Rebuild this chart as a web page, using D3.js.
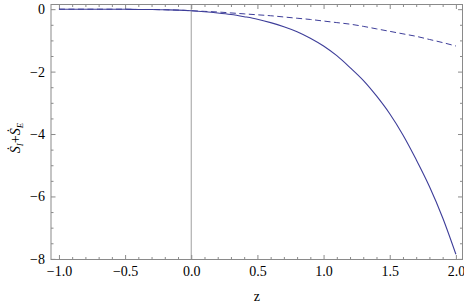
<!DOCTYPE html>
<html>
<head>
<meta charset="utf-8">
<script src="https://cdn.jsdelivr.net/npm/d3@7"></script>
<style>
body { margin: 0; background: #fff; }
svg { display: block; }
</style>
</head>
<body>
<div id="display"><svg width="464" height="305"></svg></div>
<script>
// values
var zValues = [-1.0, -0.9, -0.8, -0.7, -0.6, -0.5, -0.4, -0.3, -0.2, -0.1, 0.0,
    0.1, 0.2, 0.3, 0.4, 0.5, 0.6, 0.7, 0.8, 0.9, 1.0,
    1.1, 1.2, 1.3, 1.4, 1.5, 1.6, 1.7, 1.8, 1.9, 2.0];
var solidValues = [0.0, 0.0, 0.0, 0.0, 0.0, 0.0, -0.01, -0.01, -0.02, -0.03, -0.05,
    -0.08, -0.12, -0.17, -0.24, -0.32, -0.43, -0.56, -0.72, -0.93, -1.18,
    -1.49, -1.87, -2.28, -2.78, -3.35, -4.03, -4.82, -5.68, -6.68, -7.85];
var dashedValues = [0.0, 0.0, 0.0, 0.0, 0.0, 0.0, -0.01, -0.01, -0.02, -0.03, -0.05,
    -0.07, -0.09, -0.12, -0.15, -0.18, -0.21, -0.25, -0.29, -0.33, -0.38,
    -0.43, -0.48, -0.55, -0.63, -0.71, -0.79, -0.87, -0.97, -1.07, -1.18];
var xMajor = [-1.0, -0.5, 0.0, 0.5, 1.0, 1.5, 2.0];
var yMajor = [0, -2, -4, -6, -8];

// plot frame (note: "top" is taken by window.top)
var fL = 51, fR = 462.5, fT = 4.5, fB = 259.5;
var lineColor = "#3d3d99";
var frameColor = "#8a8a8a";
var font = "'Liberation Serif', 'Times New Roman', serif";

var svg = d3.select("#display svg");

var x = d3.scaleLinear().domain([-1.06, 2.05]).range([fL, fR]);
var y = d3.scaleLinear().domain([-8.02, 0.15]).range([fB, fT]);

var xMinor = d3.range(-10, 21).map(function (i) { return i / 10; })
    .filter(function (v) { return Math.abs(v * 2 - Math.round(v * 2)) > 1e-6; });
var yMinor = d3.range(-16, 1).map(function (i) { return i / 2; })
    .filter(function (v) { return Math.abs(v / 2 - Math.round(v / 2)) > 1e-6; });

// axis line at z = 0
svg.append("line")
    .attr("x1", x(0)).attr("x2", x(0))
    .attr("y1", fT).attr("y2", fB)
    .style("stroke", "#a8a8a8").style("stroke-width", 1.1);

function styleAxis(g) {
    g.select(".domain").remove();
    g.selectAll(".tick line").style("stroke", frameColor).style("stroke-width", 1);
    g.selectAll(".tick text").style("font-family", font).style("font-size", "14px").style("fill", "#000");
}

function fmt(d) { return d3.format(".1f")(d).replace("-", "\u2212"); }
function fmtY(d) { return String(d).replace("-", "\u2212"); }

// bottom
svg.append("g").attr("transform", "translate(0," + fB + ")")
    .call(d3.axisBottom(x).tickValues(xMajor).tickFormat(fmt).tickSize(-4.5).tickSizeOuter(0).tickPadding(7))
    .call(styleAxis);
svg.append("g").attr("transform", "translate(0," + fB + ")")
    .call(d3.axisBottom(x).tickValues(xMinor).tickFormat("").tickSize(-2.5).tickSizeOuter(0))
    .call(styleAxis);
// top
svg.append("g").attr("transform", "translate(0," + fT + ")")
    .call(d3.axisTop(x).tickValues(xMajor).tickFormat("").tickSize(-4.5).tickSizeOuter(0))
    .call(styleAxis);
svg.append("g").attr("transform", "translate(0," + fT + ")")
    .call(d3.axisTop(x).tickValues(xMinor).tickFormat("").tickSize(-2.5).tickSizeOuter(0))
    .call(styleAxis);
// left
svg.append("g").attr("transform", "translate(" + fL + ",0)")
    .call(d3.axisLeft(y).tickValues(yMajor).tickFormat(fmtY).tickSize(-4.5).tickSizeOuter(0).tickPadding(6))
    .call(styleAxis);
svg.append("g").attr("transform", "translate(" + fL + ",0)")
    .call(d3.axisLeft(y).tickValues(yMinor).tickFormat("").tickSize(-2.5).tickSizeOuter(0))
    .call(styleAxis);
// right
svg.append("g").attr("transform", "translate(" + fR + ",0)")
    .call(d3.axisRight(y).tickValues(yMajor).tickFormat("").tickSize(-4.5).tickSizeOuter(0))
    .call(styleAxis);
svg.append("g").attr("transform", "translate(" + fR + ",0)")
    .call(d3.axisRight(y).tickValues(yMinor).tickFormat("").tickSize(-2.5).tickSizeOuter(0))
    .call(styleAxis);

// frame
svg.append("rect")
    .attr("x", fL).attr("y", fT)
    .attr("width", fR - fL).attr("height", fB - fT)
    .style("fill", "none").style("stroke", frameColor).style("stroke-width", 1);

var line = d3.line()
    .x(function (d) { return x(d[0]); })
    .y(function (d) { return y(d[1]); })
    .curve(d3.curveMonotoneX);

svg.append("path")
    .datum(d3.zip(zValues, dashedValues))
    .attr("d", line)
    .style("fill", "none").style("stroke", lineColor).style("stroke-width", 1)
    .style("stroke-dasharray", "6,3.5");

svg.append("path")
    .datum(d3.zip(zValues, solidValues))
    .attr("d", line)
    .style("fill", "none").style("stroke", lineColor).style("stroke-width", 1.1);

// axis labels
svg.append("text")
    .attr("x", (fL + fR) / 2).attr("y", 301)
    .attr("text-anchor", "middle")
    .style("font-family", font).style("font-size", "14px")
    .text("z");

var yl = svg.append("text")
    .attr("transform", "translate(20," + ((fT + fB) / 2 + 6) + ") rotate(-90)")
    .attr("text-anchor", "middle")
    .style("font-family", font).style("font-size", "14px");
yl.append("tspan").style("font-style", "italic").text("\u1E60");
yl.append("tspan").attr("dy", 3).style("font-style", "italic").style("font-size", "9px").text("I");
yl.append("tspan").attr("dy", -3).text("+");
yl.append("tspan").style("font-style", "italic").text("\u1E60");
yl.append("tspan").attr("dy", 3).style("font-style", "italic").style("font-size", "9px").text("E");
</script>
</body>
</html>
